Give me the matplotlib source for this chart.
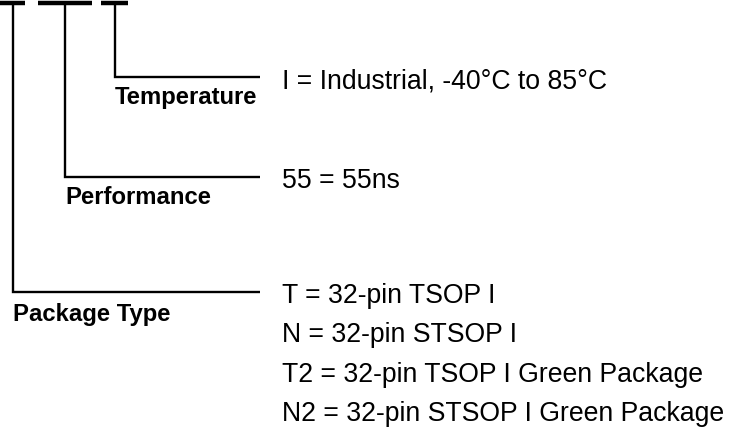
import matplotlib.pyplot as plt

plt.rcParams['font.family'] = ['Liberation Sans', 'DejaVu Sans']

# field names and their decoded options
fields = ['Temperature', 'Performance', 'Package Type']
options = [
    ['I = Industrial, -40°C to 85°C'],
    ['55 = 55ns'],
    ['T = 32-pin TSOP I',
     'N = 32-pin STSOP I',
     'T2 = 32-pin TSOP I Green Package',
     'N2 = 32-pin STSOP I Green Package'],
]

# layout (pixels) for each field: stem x, branch y, bar start/end, label drop
stem_x = [115, 65, 13]
branch_y = [78, 178, 293]
bar_x0 = [101, 38, 0]
bar_x1 = [128, 92, 25]
label_drop = [26, 26, 28]
branch_end = 260
text_x = 282
row_gap = 39.3

fig = plt.figure(figsize=(7.29, 4.39), dpi=100)
ax = fig.add_axes([0, 0, 1, 1])
ax.set_xlim(0, 729)
ax.set_ylim(439, 0)
ax.axis('off')

for i, name in enumerate(fields):
    x, y = stem_x[i], branch_y[i]
    ax.plot([bar_x0[i], bar_x1[i]], [3.5, 3.5], color='black', lw=3.2, solid_capstyle='butt')
    ax.plot([x, x, branch_end], [3.5, y, y], color='black', lw=1.7,
            solid_joinstyle='miter', solid_capstyle='butt')
    ax.text(x, y + label_drop[i], name, fontsize=17.2, fontweight='bold', va='baseline', ha='left')
    for j, opt in enumerate(options[i]):
        ax.text(text_x, y + 10 + j * row_gap, opt, fontsize=19.2, va='baseline', ha='left')

fig.savefig('out.png', dpi=100)
